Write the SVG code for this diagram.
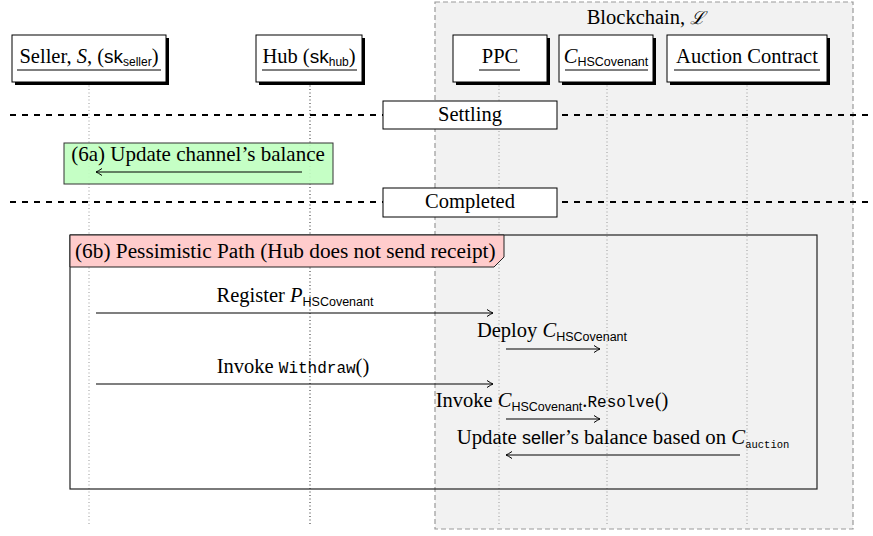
<svg xmlns="http://www.w3.org/2000/svg" width="873" height="536" viewBox="0 0 873 536">
<defs>
<style>
.t{font-family:"Liberation Serif",serif;font-size:20.5px;fill:#000}
.sf{font-family:"Liberation Sans",sans-serif}
.tt{font-family:"Liberation Mono",monospace}
.it{font-style:italic}
.hdr{fill:#fff;stroke:#000;stroke-width:1}
.shadow{fill:#000}
.ul{stroke:#000;stroke-width:1}
.life{stroke:#999;stroke-width:1;stroke-dasharray:1 2.5}
.phase{stroke:#000;stroke-width:2;stroke-dasharray:6 6}
.msg{stroke:#000;stroke-width:1.1;fill:none;marker-end:url(#ah)}
</style>
<marker id="ah" viewBox="-7 -5 8 10" markerWidth="8" markerHeight="10" refX="0" refY="0" orient="auto" markerUnits="userSpaceOnUse">
<path d="M-6,-3.5 Q-2,-0.8 0,0 Q-2,0.8 -6,3.5" fill="none" stroke="#000" stroke-width="1"/>
</marker>
</defs>
<rect width="873" height="536" fill="#fff"/>

<g id="blockchain">
<rect x="435" y="2" width="418" height="527" fill="#f2f2f2" stroke="#999" stroke-width="1.2" stroke-dasharray="5 3"/>
<text class="t" x="646" y="24" text-anchor="middle">Blockchain, <tspan font-family="DejaVu Serif, serif" font-style="italic" font-size="18">ℒ</tspan></text>
</g>

<g id="lifelines">
<line class="life" x1="89" y1="82" x2="89" y2="526"/>
<line class="life" x1="310" y1="82" x2="310" y2="526" style="stroke:#222"/>
<line class="life" x1="499" y1="82" x2="499" y2="526"/>
<line class="life" x1="607" y1="82" x2="607" y2="526"/>
<line class="life" x1="747" y1="82" x2="747" y2="526"/>
</g>

<g id="seller">
<rect class="shadow" x="15" y="38" width="154" height="47"/>
<rect class="hdr" x="12" y="35" width="154" height="47"/>
<text class="t" x="89" y="63" text-anchor="middle">Seller, <tspan class="it">S</tspan>, (<tspan class="sf" font-size="19">sk</tspan><tspan class="sf" font-size="12" dy="3">seller</tspan><tspan dy="-3">)</tspan></text>
<line class="ul" x1="17" y1="70" x2="161" y2="70"/>
</g>
<g id="hub">
<rect class="shadow" x="259" y="38" width="106" height="47"/>
<rect class="hdr" x="256" y="35" width="106" height="47"/>
<text class="t" x="309" y="63" text-anchor="middle">Hub (<tspan class="sf" font-size="19">sk</tspan><tspan class="sf" font-size="12" dy="3">hub</tspan><tspan dy="-3">)</tspan></text>
<line class="ul" x1="262" y1="70" x2="357" y2="70"/>
</g>
<g id="ppc">
<rect class="shadow" x="456" y="38" width="94" height="47"/>
<rect class="hdr" x="453" y="35" width="94" height="47"/>
<text class="t" x="500" y="63" text-anchor="middle">PPC</text>
<line class="ul" x1="479" y1="70" x2="520" y2="70"/>
</g>
<g id="chscovenant">
<rect class="shadow" x="562" y="38" width="94" height="47"/>
<rect class="hdr" x="559" y="35" width="94" height="47"/>
<text class="t" x="606" y="63" text-anchor="middle"><tspan class="it">C</tspan><tspan class="sf" font-size="12.5" dy="3">HSCovenant</tspan></text>
<line class="ul" x1="565" y1="70" x2="648" y2="70"/>
</g>
<g id="auction">
<rect class="shadow" x="670" y="38" width="160" height="47"/>
<rect class="hdr" x="667" y="35" width="160" height="47"/>
<text class="t" x="747" y="63" text-anchor="middle">Auction Contract</text>
<line class="ul" x1="674" y1="70" x2="820" y2="70"/>
</g>

<g id="phase-settling">
<line class="phase" x1="10" y1="115" x2="873" y2="115"/>
<rect x="383" y="101" width="174" height="28" fill="#fff" stroke="#000"/>
<text class="t" x="470" y="121" text-anchor="middle">Settling</text>
</g>

<g id="step-6a">
<rect x="64" y="143" width="269" height="41" fill="#c0ffc0" fill-opacity="0.92" stroke="#333"/>
<text class="t" x="198" y="161" text-anchor="middle" style="font-size:21px">(6a) Update channel’s balance</text>
</g>

<g id="phase-completed">
<line class="phase" x1="10" y1="202" x2="873" y2="202"/>
<rect x="383" y="188" width="174" height="29" fill="#fff" stroke="#000"/>
<text class="t" x="470" y="208" text-anchor="middle">Completed</text>
</g>

<g id="frame-6b">
<rect x="70" y="235" width="747" height="254" fill="none" stroke="#222" stroke-width="1.2"/>
<polygon points="70,235 504,235 504,257 494,267 70,267" fill="#ffcccc" stroke="#222" stroke-width="1"/>
<text class="t" x="75" y="258" style="font-size:21.3px">(6b) Pessimistic Path (Hub does not send receipt)</text>
</g>

<g id="connectors">
<line class="msg" x1="302" y1="172" x2="96" y2="172"/>
<line class="msg" x1="96" y1="313" x2="493" y2="313"/>
<line class="msg" x1="506" y1="349" x2="600" y2="349"/>
<line class="msg" x1="96" y1="384" x2="493" y2="384"/>
<line class="msg" x1="506" y1="419" x2="600" y2="419"/>
<line class="msg" x1="740" y1="455" x2="506" y2="455"/>
</g>

<g id="labels">
<text class="t" x="295" y="302" text-anchor="middle">Register <tspan class="it">P</tspan><tspan class="sf" font-size="12.5" dy="4">HSCovenant</tspan></text>
<text class="t" x="552" y="337" text-anchor="middle">Deploy <tspan class="it">C</tspan><tspan class="sf" font-size="12.5" dy="4">HSCovenant</tspan></text>
<text class="t" x="293" y="373" text-anchor="middle">Invoke <tspan class="tt" font-size="16">Withdraw</tspan>()</text>
<text class="t" x="552" y="407" text-anchor="middle">Invoke <tspan class="it">C</tspan><tspan class="sf" font-size="12.5" dy="4">HSCovenant</tspan><tspan dy="-4">.</tspan><tspan class="tt" font-size="16">Resolve</tspan>()</text>
<text class="t" x="623" y="444" text-anchor="middle" style="font-size:20.8px">Update <tspan class="sf" font-size="18">seller</tspan>’s balance based on <tspan class="it">C</tspan><tspan class="tt" font-size="10.5" dy="4">auction</tspan></text>
</g>
</svg>
